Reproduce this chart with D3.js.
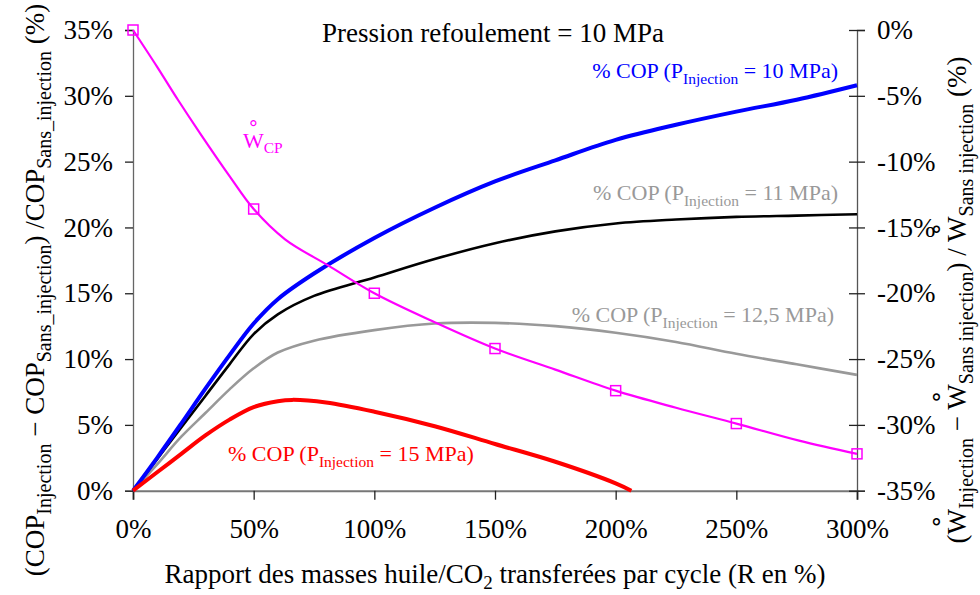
<!DOCTYPE html>
<html>
<head>
<meta charset="utf-8">
<script src="https://cdn.jsdelivr.net/npm/d3@7"></script>
<style>
  body { margin: 0; background: #fff; }
  text { font-family: "Liberation Serif", "Times New Roman", serif; }
</style>
</head>
<body>
<div id="my_dataviz"></div>
<script>
// R (% masse huile / CO2), common x values for the COP curves
var ratio = [0, 10, 20, 30, 40, 50, 60, 75, 100, 125, 150, 175, 200, 225, 250, 275, 300];
var cop10 = [0, 2.5, 5.1, 7.75, 10.3, 12.7, 14.55, 16.5, 19.2, 21.5, 23.5, 25.1, 26.65, 27.8, 28.8, 29.7, 30.8];
var cop11 = [0, 2.4, 4.8, 7.2, 9.6, 11.9, 13.4, 14.8, 16.2, 17.6, 18.8, 19.7, 20.3, 20.6, 20.8, 20.9, 21.0];
var cop125 = [0, 2.0, 4.1, 5.9, 7.7, 9.3, 10.5, 11.4, 12.2, 12.7, 12.75, 12.5, 12.0, 11.3, 10.4, 9.6, 8.8];

// 15 MPa stops where it reaches 0
var ratio15 = [0, 10, 20, 30, 40, 50, 60, 66, 80, 100, 125, 150, 175, 200, 206.5];
var cop15 = [0, 1.4, 2.8, 4.2, 5.4, 6.35, 6.8, 6.9, 6.7, 6.0, 4.9, 3.55, 2.2, 0.56, 0];

// W_CP (right axis)
var ratioW = [0, 10, 18.6, 27.8, 40, 50, 63, 81, 100, 125, 150, 175, 200, 225, 250, 276, 300];
var wcp = [0, -2.8, -5.3, -7.85, -11.1, -13.6, -15.9, -17.9, -20.0, -22.2, -24.2, -25.8, -27.4, -28.7, -29.9, -31.2, -32.2];
var markRatio = [0, 50, 100, 150, 200, 250, 300];
var markW = [0, -13.6, -20.0, -24.2, -27.4, -29.9, -32.2];

var xTicks = [0, 50, 100, 150, 200, 250, 300];
var yLeftTicks = [0, 5, 10, 15, 20, 25, 30, 35];
var yRightTicks = [0, -5, -10, -15, -20, -25, -30, -35];

var margin = { top: 30, right: 123, bottom: 104, left: 133 },
  width = 980 - margin.left - margin.right,
  height = 595 - margin.top - margin.bottom - 0.3;

var root = d3
  .select("#my_dataviz")
  .append("svg")
  .attr("id", "svg")
  .attr("width", 980)
  .attr("height", 595);

var svg = root
  .append("g")
  .attr("transform", "translate(" + margin.left + "," + margin.top + ")");

var x = d3.scaleLinear().domain([0, 300]).range([0, width]);
var yL = d3.scaleLinear().domain([0, 35]).range([height, 0]);
var yR = d3.scaleLinear().domain([-35, 0]).range([height, 0]);

var pct = function (d) {
  return d + "%";
};

// axes
var gx = svg
  .append("g")
  .attr("transform", "translate(0," + height + ")")
  .call(d3.axisBottom(x).tickValues(xTicks).tickFormat(pct).tickSize(9).tickPadding(19));
gx.select(".domain").attr("stroke", "#777").attr("stroke-width", 2);

var gl = svg
  .append("g")
  .call(d3.axisLeft(yL).tickValues(yLeftTicks).tickFormat(pct).tickSize(8).tickPadding(12));
gl.select(".domain").attr("stroke", "#666").attr("stroke-width", 1.3);

var gr = svg
  .append("g")
  .attr("transform", "translate(" + width + ",0)")
  .call(d3.axisRight(yR).tickValues(yRightTicks).tickFormat(pct).tickSize(8).tickPadding(12));
gr.select(".domain").attr("stroke", "#555").attr("stroke-width", 1.3);
// ticks on the right axis cross the line
gr.selectAll(".tick line").attr("x1", -8);

root.selectAll(".tick text").style("font-size", "27px").attr("fill", "#000")
  .style("font-family", "'Liberation Serif', serif");
root.selectAll(".tick line").attr("stroke", "#222").attr("stroke-width", 1.3);

// the curves
var curveLine = function (xs, ys, yScale) {
  return d3
    .line()
    .x(function (d, i) {
      return x(xs[i]);
    })
    .y(function (d) {
      return yScale(d);
    })
    .curve(d3.curveCatmullRom.alpha(0.5))(ys);
};

var plot = svg.append("g");

plot.append("path").attr("d", curveLine(ratio, cop125, yL))
  .attr("fill", "none").attr("stroke", "#999").attr("stroke-width", 2.6);
plot.append("path").attr("d", curveLine(ratio, cop11, yL))
  .attr("fill", "none").attr("stroke", "#000").attr("stroke-width", 2.6);
plot.append("path").attr("d", curveLine(ratio, cop10, yL))
  .attr("fill", "none").attr("stroke", "#0000ff").attr("stroke-width", 4);
plot.append("path").attr("d", curveLine(ratio15, cop15, yL))
  .attr("fill", "none").attr("stroke", "#ff0000").attr("stroke-width", 4);
plot.append("path").attr("d", curveLine(ratioW, wcp, yR))
  .attr("fill", "none").attr("stroke", "#ff00ff").attr("stroke-width", 2.2);

plot
  .selectAll(".mark")
  .data(markW)
  .enter()
  .append("rect")
  .attr("class", "mark")
  .attr("x", function (d, i) {
    return x(markRatio[i]) - 5;
  })
  .attr("y", function (d) {
    return yR(d) - 5;
  })
  .attr("width", 10)
  .attr("height", 10)
  .attr("fill", "none")
  .attr("stroke", "#ff00ff")
  .attr("stroke-width", 1.5);

// text with subscripts and the ring over W
// parts: {t: string, sub: bool} or {ring: true} (ring goes on the W just before)
function richText(parent, parts, size, subSize, shift) {
  var t = parent.append("text").style("font-size", size + "px");
  var off = 0,
    pendingDx = 0;
  parts.forEach(function (p) {
    if (p.ring) {
      var rSize = size * 1.4,
        wW = 0.944 * size,
        rW = 0.333 * rSize,
        up = -0.22 * size;
      t.append("tspan")
        .text("\u02DA")
        .attr("dx", -(wW / 2 + rW / 2))
        .attr("dy", up - off)
        .style("font-size", rSize + "px");
      off = up;
      pendingDx = wW / 2 - rW / 2;
      return;
    }
    var target = p.sub ? shift : 0;
    var s = t
      .append("tspan")
      .text(p.t)
      .attr("dy", target - off)
      .style("font-size", (p.sub ? subSize : size) + "px");
    if (pendingDx) {
      s.attr("dx", pendingDx);
      pendingDx = 0;
    }
    off = target;
  });
  return t;
}

function copLabel(mpa, color, xPos, yPos, anchor) {
  richText(root, [{ t: "% COP (P" }, { t: "Injection", sub: true }, { t: " = " + mpa + " MPa)" }], 22, 15.5, 6)
    .attr("x", xPos)
    .attr("y", yPos)
    .attr("fill", color)
    .attr("text-anchor", anchor);
}

copLabel("10", "#0000ff", 838, 78, "end");
copLabel("11", "#999", 838, 200, "end");
copLabel("12,5", "#999", 834, 322, "end");
copLabel("15", "#ff0000", 228, 461, "start");

richText(root, [{ t: "W" }, { ring: true }, { t: "CP", sub: true }], 22, 15.5, 5)
  .attr("x", 243)
  .attr("y", 148)
  .attr("fill", "#ff00ff");

// title
root
  .append("text")
  .attr("x", 493)
  .attr("y", 42)
  .attr("text-anchor", "middle")
  .style("font-size", "27px")
  .text("Pression refoulement = 10 MPa");

// x axis title
richText(root, [{ t: "Rapport des masses huile/CO" }, { t: "2", sub: true }, { t: " transferées par cycle (R en %)" }], 27, 19, 6)
  .attr("x", 495)
  .attr("y", 583)
  .attr("text-anchor", "middle");

// left axis title
richText(
  root,
  [
    { t: "(COP" }, { t: "Injection", sub: true }, { t: " \u2212 COP" }, { t: "Sans_injection", sub: true },
    { t: ") /COP" }, { t: "Sans_injection", sub: true }, { t: " (%)" }
  ],
  27, 20, 7
)
  .attr("text-anchor", "middle")
  .attr("transform", "translate(44,290) rotate(-90)");

// right axis title
richText(
  root,
  [
    { t: "(W" }, { ring: true }, { t: "Injection", sub: true }, { t: " \u2212 W" }, { ring: true },
    { t: "Sans injection", sub: true }, { t: ")  / W" }, { ring: true }, { t: "Sans injection", sub: true },
    { t: " (%)" }
  ],
  27, 20, 7
)
  .attr("text-anchor", "middle")
  .attr("transform", "translate(966,300) rotate(-90)");
</script>
</body>
</html>
